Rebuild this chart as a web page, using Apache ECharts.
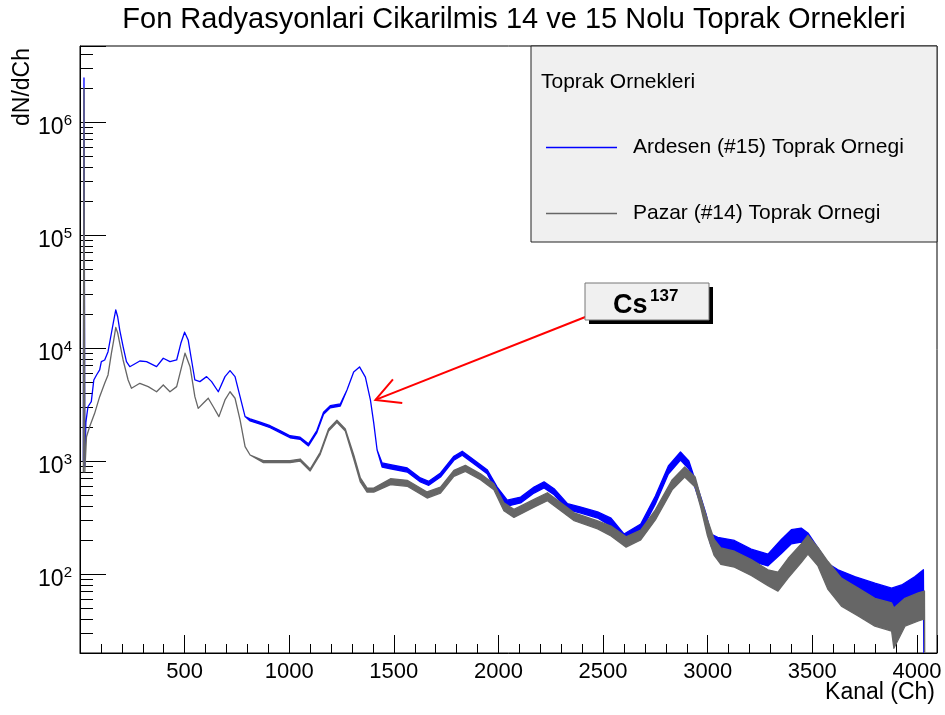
<!DOCTYPE html>
<html><head><meta charset="utf-8">
<script src="https://cdn.jsdelivr.net/npm/echarts@6/dist/echarts.min.js"></script>
<style>html,body{margin:0;padding:0;background:#fff;}#c{width:945px;height:715px;}</style>
</head><body><div id="c"></div>
<script>
// ---- data (channel, lower envelope, upper envelope of the noisy spectrum) ----
const blueName = 'Ardesen (#15) Toprak Ornegi';
const grayName = 'Pazar (#14) Toprak Ornegi';

const blueCh = [16,19,23,28,38,54,66,79,94,102,
 118,134,150,160,171,180,190,206,222,238,
 286,318,366,398,430,462,482,500,517,533,
 549,573,605,629,661,693,717,741,765,789,
 813,861,909,956,1004,1052,1092,1132,1164,1196,
 1244,1276,1308,1336,1364,1388,1404,1420,1444,1484,
 1564,1627,1667,1723,1787,1827,1882,1946,1994,2042,
 2106,2170,2218,2266,2330,2394,2474,2538,2600,2680,
 2750,2812,2870,2910,2968,2992,3016,3048,3128,3208,
 3288,3352,3400,3447,3479,3527,3575,3623,3703,3799,
 3879,3927,3991,4031,4038];
const blueLow = [1000,2450000,900,2200,3020,3350,5210,5770,6390,7570,
 7830,9270,13500,17000,21700,18900,14400,10270,7570,6830,
 7670,7570,6830,8110,7570,7830,11000,13800,11780,7830,
 5210,5040,5580,5040,4100,5580,6300,5580,3710,2470,
 2262,2116,1969,1783,1606,1557,1361,1783,2586,2958,
 3066,4250,6140,6800,5530,3470,2160,1250,885,854,
 798,652,609,722,1014,1123,946,772,520,398,
 425,520,578,503,371,346,313,265,192,235,
 417,767,1020,850,403,266,177,165,155,130,
 118,152,185,192,173,127,82,72,63,55,
 50,53,63,72,1];
const blueHigh = [1000,2450000,900,2200,3020,3350,5210,5770,6390,7570,
 7830,9270,13500,17000,21700,18900,14400,10270,7570,6830,
 7670,7570,6830,8110,7570,7830,11000,13800,11780,7830,
 5210,5040,5580,5040,4100,5580,6300,5580,3710,2470,
 2358,2205,2052,1858,1674,1623,1419,1858,2695,3083,
 3195,4250,6140,6800,5530,3470,2160,1250,961,927,
 867,708,662,784,1101,1219,1027,838,588,450,
 480,588,653,569,419,391,354,312,226,277,
 490,903,1201,1000,474,340,226,211,198,166,
 150,202,247,255,231,170,124,109,95,83,
 75,80,95,109,1];

const grayCh = [16,19,23,31,46,70,94,118,134,150,
 160,171,180,190,206,230,246,286,326,366,
 398,430,462,482,502,526,549,565,589,613,
 637,664,693,717,741,765,789,813,877,941,
 1004,1052,1100,1148,1188,1228,1268,1308,1340,1372,
 1404,1484,1564,1659,1723,1787,1842,1914,1978,2026,
 2074,2170,2234,2298,2362,2474,2538,2610,2680,2750,
 2830,2890,2940,2968,2999,3031,3063,3128,3208,3288,
 3336,3384,3447,3479,3527,3575,3639,3719,3799,3879,
 3890,3943,4007,4036,4040];
const grayLow = [800,2000000,800,1640,2010,2640,3710,4870,5770,8970,
 11400,15200,13600,11000,7830,5210,4400,4870,4550,4100,
 4710,4100,4550,6390,9000,6830,3710,2920,3240,3590,
 3020,2470,3470,4100,3590,2310,1340,1130,966,966,
 966,999,815,1146,1842,2205,1842,1046,652,531,
 531,617,597,470,520,732,810,683,557,363,
 317,390,445,363,296,251,217,173,200,301,
 555,722,589,382,218,146,122,115,97,79,
 70.5,92,126,150,118,73,52,42.5,34.6,31.3,
 22,34.6,38.4,40,1];
const grayHigh = [800,2000000,800,1640,2010,2640,3710,4870,5770,8970,
 11400,15200,13600,11000,7830,5210,4400,4870,4550,4100,
 4710,4100,4550,6390,9000,6830,3710,2920,3240,3590,
 3020,2470,3470,4100,3590,2310,1340,1130,1007,1007,
 1007,1041,849,1195,1920,2297,1920,1136,708,576,
 576,697,675,532,588,827,915,772,629,427,
 373,459,524,427,348,295,266,213,245,369,
 680,884,722,468,302,202,170,159,134,109,
 104,137,185,220,172,129,92,75,61,55.5,
 50,61,68,70.7,1];

const xTickLabels = [500,1000,1500,2000,2500,3000,3500,4000];
const yDecades = [2,3,4,5,6];
const arrowFrom = [2418, 18900];
const arrowTo = [1412, 3470];

// ---- chart ----
const FONT = "'Liberation Sans', Arial, Helvetica, sans-serif";
const BLUE = '#0000ff', GRAY = '#666666';
const chart = echarts.init(document.getElementById('c'));

function band(ch, lo, hi, color) {
  return function (params, api) {
    if (params.dataIndex !== 0) return null;
    const pts = [];
    for (let i = 0; i < ch.length; i++) pts.push(api.coord([ch[i], hi[i]]));
    for (let i = ch.length - 1; i >= 0; i--) pts.push(api.coord([ch[i], lo[i]]));
    return {type: 'polygon', shape: {points: pts},
      style: {fill: color, stroke: color, lineWidth: 1.3, lineJoin: 'round'}};
  };
}

chart.setOption({
  animation: false,
  backgroundColor: '#ffffff',
  title: {
    text: 'Fon Radyasyonlari Cikarilmis 14 ve 15 Nolu Toprak Ornekleri',
    left: 509, top: 0, textAlign: 'center',
    textStyle: {fontFamily: FONT, fontSize: 29, fontWeight: 'normal', color: '#000'}
  },
  grid: {left: 80, right: 8, top: 46, bottom: 62, show: true,
    borderColor: '#000', borderWidth: 1, backgroundColor: '#fff'},
  legend: {
    data: [blueName, grayName], orient: 'vertical', left: 546, top: 137, padding: 0,
    icon: 'rect', itemWidth: 71, itemHeight: 1.5, itemGap: 45, selectedMode: false,
    textStyle: {fontFamily: FONT, fontSize: 21, color: '#000', padding: [0, 0, 0, 11]}
  },
  xAxis: {
    type: 'value', min: 0, max: 4096, interval: 500,
    axisLine: {show: true, lineStyle: {color: '#000', width: 1}},
    axisTick: {show: true, inside: true, length: 18, lineStyle: {color: '#000'}},
    minorTick: {show: true, splitNumber: 5, length: 9, lineStyle: {color: '#000'}},
    splitLine: {show: false},
    axisLabel: {fontFamily: FONT, fontSize: 22, color: '#000', margin: 8,
      formatter: v => xTickLabels.indexOf(v) >= 0 ? String(v) : ''}
  },
  yAxis: {
    type: 'log', logBase: 10, min: 20, max: 4.7e6,
    axisLine: {show: true, lineStyle: {color: '#000', width: 1}},
    axisTick: {show: true, inside: true, length: 26, lineStyle: {color: '#000'}},
    minorTick: {show: true, splitNumber: 9, length: 13, lineStyle: {color: '#000'}},
    splitLine: {show: false}, minorSplitLine: {show: false},
    axisLabel: {
      margin: 8, color: '#000', padding: [8, 0, 0, 0],
      formatter: v => {
        const e = Math.round(Math.log10(v));
        if (Math.abs(Math.log10(v) - e) > 1e-6 || yDecades.indexOf(e) < 0) return '';
        return '{b|10}{s|' + e + '}';
      },
      rich: {
        b: {fontFamily: FONT, fontSize: 23, color: '#000', lineHeight: 26, verticalAlign: 'bottom'},
        s: {fontFamily: FONT, fontSize: 15, color: '#000', lineHeight: 15, verticalAlign: 'top'}
      }
    }
  },
  series: [
    {type: 'custom', name: blueName, clip: true, silent: true, z: 2,
      itemStyle: {color: BLUE}, encode: {x: 0, y: 1},
      data: [[blueCh[0], blueLow[0]]], renderItem: band(blueCh, blueLow, blueHigh, BLUE)},
    {type: 'custom', name: grayName, clip: true, silent: true, z: 3,
      itemStyle: {color: GRAY}, encode: {x: 0, y: 1},
      data: [[grayCh[0], grayLow[0]]], renderItem: band(grayCh, grayLow, grayHigh, GRAY)}
  ]
});

// annotations
const p0 = chart.convertToPixel({gridIndex: 0}, arrowFrom);
const p1 = chart.convertToPixel({gridIndex: 0}, arrowTo);
const dx = p1[0] - p0[0], dy = p1[1] - p0[1], len = Math.hypot(dx, dy);
const ux = -dx / len, uy = -dy / len, L = 27, th = 28 * Math.PI / 180;
function rot(a) { return [p1[0] + L * (ux * Math.cos(a) - uy * Math.sin(a)), p1[1] + L * (ux * Math.sin(a) + uy * Math.cos(a))]; }
const w1 = rot(th), w2 = rot(-th);

chart.setOption({
  graphic: [
    {type: 'rect', z: 3, shape: {x: 531, y: 46, width: 406, height: 196},
      style: {fill: '#f0f0f0', stroke: '#222', lineWidth: 1}},
    {type: 'text', z: 5, x: 541, y: 82,
      style: {text: 'Toprak Ornekleri', fontFamily: FONT, fontSize: 21, fill: '#000',
        align: 'left', verticalAlign: 'middle'}},
    {type: 'text', z: 5, x: 23, y: 48, rotation: Math.PI / 2,
      style: {text: 'dN/dCh', fontFamily: FONT, fontSize: 23, fill: '#000',
        align: 'right', verticalAlign: 'middle'}},
    {type: 'text', z: 5, x: 935, y: 693,
      style: {text: 'Kanal (Ch)', fontFamily: FONT, fontSize: 23, fill: '#000',
        align: 'right', verticalAlign: 'middle'}},
    {type: 'line', z: 6, shape: {x1: p0[0], y1: p0[1], x2: p1[0], y2: p1[1]},
      style: {stroke: '#ff0000', lineWidth: 2}},
    {type: 'polyline', z: 6, shape: {points: [w1, p1, w2]},
      style: {stroke: '#ff0000', lineWidth: 2, fill: null}},
    {type: 'rect', z: 6, shape: {x: 589, y: 287, width: 124, height: 37},
      style: {fill: '#000'}},
    {type: 'rect', z: 7, shape: {x: 585, y: 283, width: 124, height: 37},
      style: {fill: '#f0f0f0', stroke: '#777', lineWidth: 1}},
    {type: 'text', z: 8, x: 613, y: 306,
      style: {text: 'Cs', fontFamily: FONT, fontSize: 27, fontWeight: 'bold', fill: '#000',
        align: 'left', verticalAlign: 'middle'}},
    {type: 'text', z: 8, x: 650, y: 296,
      style: {text: '137', fontFamily: FONT, fontSize: 17, fontWeight: 'bold', fill: '#000',
        align: 'left', verticalAlign: 'middle'}}
  ]
});
</script></body></html>
